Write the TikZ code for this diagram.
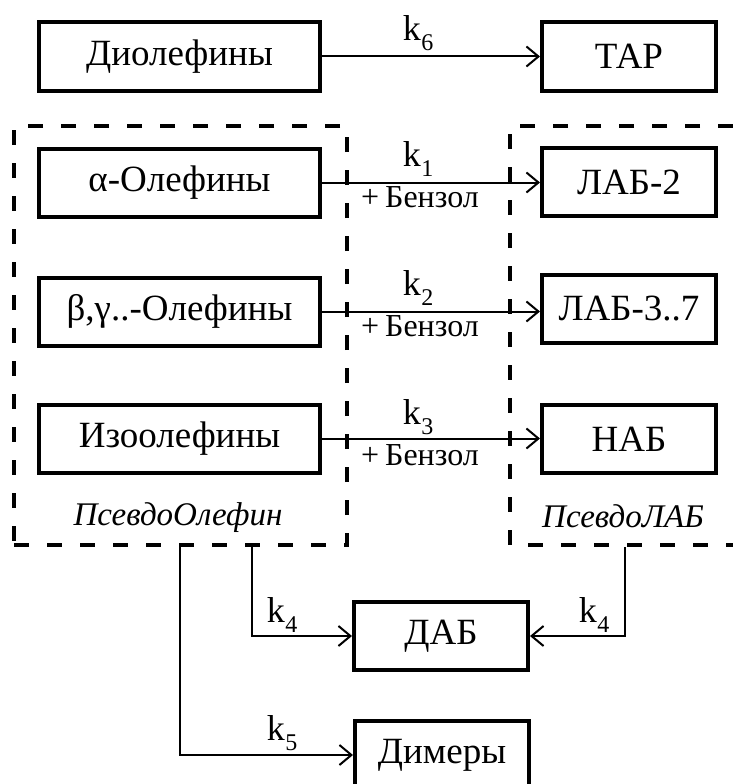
\documentclass[tikz,border=0pt]{standalone}
\usepackage{fontspec}
\setmainfont{Liberation Serif}
\usetikzlibrary{arrows.meta}
\newcommand{\kk}[1]{k\kern0.5pt\raisebox{-10pt}{\fontsize{24}{24}\selectfont #1}}
\begin{document}
\begin{tikzpicture}[x=1pt,y=-1pt,
  box/.style={draw,line width=4pt,inner sep=0pt,font=\fontsize{37}{42}\selectfont},
  lbox/.style={box,minimum width=281pt,minimum height=68pt},
  rbox/.style={box,minimum width=174pt,minimum height=68pt},
  grp/.style={draw,line width=4pt,dash pattern=on 15pt off 18pt},
  conn/.style={line width=2pt,-{Straight Barb[length=12pt,width=20pt,line width=2pt]}},
  klab/.style={font=\fontsize{36}{40}\selectfont,anchor=base,inner sep=0pt},
  blab/.style={font=\fontsize{32}{36}\selectfont,anchor=base,inner sep=0pt},
  glab/.style={font=\itshape\fontsize{33}{36}\selectfont,anchor=base,inner sep=0pt}]
\useasboundingbox (0,0) rectangle (733,784);
\clip (0,0) rectangle (733,784);
% groups
\node[grp,minimum width=333pt,minimum height=419pt,inner sep=0pt] (po) at (180.5,335.5) {};
\coordinate (plt) at (733,126);
\coordinate (pltl) at (510,126);
\coordinate (plbl) at (510,545);
\coordinate (plb) at (733,545);
\draw[grp] (plt) -- (pltl) -- (plbl) -- (plb);
% boxes
\node[lbox] (dio) at (179.5,56.5) {Диолефины};
\node[rbox] (tar) at (629,56.5) {ТАР};
\node[lbox] (alf) at (179.5,182.5) {α-Олефины};
\node[rbox] (lab2) at (629,182) {ЛАБ-2};
\node[lbox] (bet) at (179.5,311.5) {β,γ..-Олефины};
\node[rbox] (lab3) at (629,308.5) {ЛАБ-3..7};
\node[lbox] (izo) at (179.5,438.5) {Изоолефины};
\node[rbox] (nab) at (629,439) {НАБ};
\node[rbox] (dab) at (441,636) {ДАБ};
\node[rbox] (dim) at (442,755) {Димеры};
% connectors
\draw[conn] (dio.east) -- (dio.east -| tar.west);
\draw[conn] (alf.east) -- (alf.east -| lab2.west);
\draw[conn] (bet.east) -- (bet.east -| lab3.west);
\draw[conn] (izo.east) -- (izo.east -| nab.west);
\coordinate (k4a) at (252,547);
\coordinate (k5a) at (180,547);
\coordinate (k4b) at (625,547);
\draw[conn] (k4a) |- (dab.west);
\draw[conn] (k5a) |- (dim.west);
\draw[conn] (k4b) |- (dab.east);
% labels
\node[klab] (l6) at (418,41) {\kk{6}};
\node[klab] (l1) at (418,166) {\kk{1}};
\node[blab] (b1) at (420,207) {+\kern6pt Бензол};
\node[klab] (l2) at (418,295) {\kk{2}};
\node[blab] (b2) at (420,336) {+\kern6pt Бензол};
\node[klab] (l3) at (418,424) {\kk{3}};
\node[blab] (b3) at (420,465) {+\kern6pt Бензол};
\node[klab] (l4a) at (282,622) {\kk{4}};
\node[klab] (l4b) at (594,622) {\kk{4}};
\node[klab] (l5) at (282,740) {\kk{5}};
\node[glab] (g1) at (178,525) {ПсевдоОлефин};
\node[glab] (g2) at (623,527) {ПсевдоЛАБ};
\end{tikzpicture}
\end{document}
